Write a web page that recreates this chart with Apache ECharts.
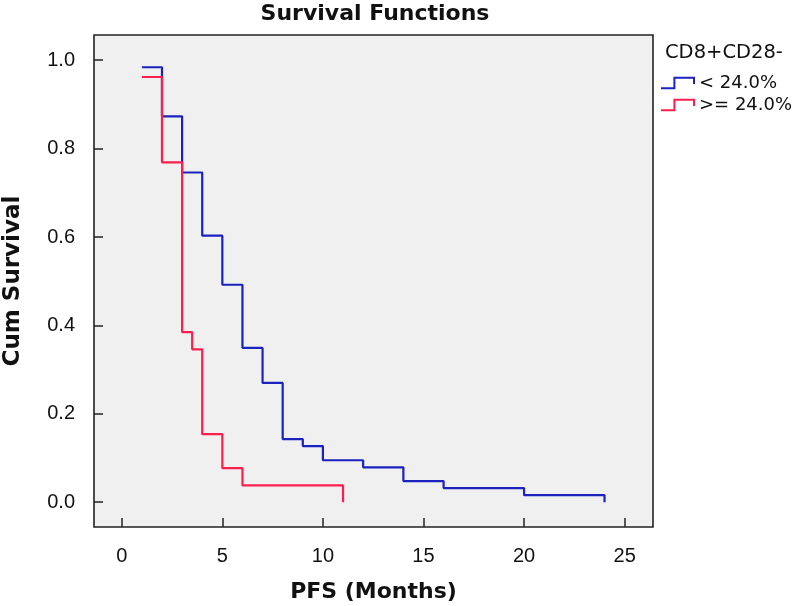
<!DOCTYPE html>
<html>
<head>
<meta charset="utf-8">
<script src="https://cdn.jsdelivr.net/npm/echarts@6/dist/echarts.min.js"></script>
<style>html,body{margin:0;padding:0;background:#fff;}#c{width:793px;height:606px;}</style>
</head>
<body>
<div id="c"></div>
<script>
// Data
var blueName = '< 24.0%';
var redName = '>= 24.0%';
var blueTimes = [1, 2, 3, 4, 5, 6, 7, 8, 9, 10, 12, 14, 16, 20, 24];
var blueSurv  = [0.984, 0.873, 0.746, 0.603, 0.492, 0.349, 0.270, 0.143, 0.127, 0.095, 0.079, 0.048, 0.032, 0.016, 0.0];
var redTimes  = [1, 2, 3, 3.5, 4, 5, 6, 11];
var redSurv   = [0.962, 0.769, 0.385, 0.346, 0.154, 0.077, 0.038, 0.0];
var xTicks = [0, 5, 10, 15, 20, 25];
var yTicks = [0.0, 0.2, 0.4, 0.6, 0.8, 1.0];

var BLUE = '#1c22bd';
var RED = '#fb1f4e';
var stepIcon = 'path://M0,10L13,10L13,0L32,0L32,6';

function pairs(xs, ys) { return xs.map(function (x, i) { return [x, ys[i]]; }); }

var chart = echarts.init(document.getElementById('c'), null, {renderer: 'canvas'});
chart.setOption({
  animation: false,
  backgroundColor: '#ffffff',
  title: [{
    text: 'Survival Functions',
    left: 375, top: 3, textAlign: 'center', padding: 0,
    textStyle: {fontFamily: 'DejaVu Sans', fontWeight: 'bold', fontSize: 22, color: '#111'}
  }, {
    text: 'CD8+CD28-',
    left: 665, top: 43, padding: 0,
    textStyle: {fontFamily: 'DejaVu Sans', fontWeight: 'normal', fontSize: 19.5, color: '#111'}
  }],
  legend: {
    orient: 'vertical', left: 660, top: 74, padding: 0,
    itemWidth: 33, itemHeight: 11, itemGap: 4, selectedMode: false,
    textStyle: {fontFamily: 'DejaVu Sans', fontSize: 18, color: '#111'},
    data: [
      {name: blueName, icon: stepIcon, itemStyle: {color: 'transparent', borderColor: BLUE, borderWidth: 2}},
      {name: redName, icon: stepIcon, itemStyle: {color: 'transparent', borderColor: RED, borderWidth: 2}}
    ]
  },
  grid: {
    left: 94, right: 140, top: 35, bottom: 79,
    show: true, backgroundColor: '#f0f0f0', borderColor: '#222', borderWidth: 1.6,
    containLabel: false, outerBoundsMode: 'none'
  },
  xAxis: {
    type: 'value', min: -1.38, max: 26.41, position: 'bottom',
    name: 'PFS (Months)', nameLocation: 'middle', nameGap: 54,
    nameTextStyle: {fontFamily: 'DejaVu Sans', fontWeight: 'bold', fontSize: 22, color: '#111'},
    axisLine: {show: false, onZero: false},
    splitLine: {show: false},
    axisTick: {show: true, inside: false, length: -9, lineStyle: {color: '#222', width: 1.5}, customValues: xTicks},
    axisLabel: {customValues: xTicks, margin: 19, fontFamily: 'Liberation Sans', fontSize: 20, color: '#111'}
  },
  yAxis: {
    type: 'value', min: -0.056, max: 1.057, position: 'left',
    name: 'Cum Survival', nameLocation: 'middle', nameGap: 69,
    nameTextStyle: {fontFamily: 'DejaVu Sans', fontWeight: 'bold', fontSize: 23, color: '#111'},
    axisLine: {show: false, onZero: false},
    splitLine: {show: false},
    axisTick: {show: true, inside: false, length: -9, lineStyle: {color: '#222', width: 1.5}, customValues: yTicks},
    axisLabel: {customValues: yTicks, margin: 19, fontFamily: 'Liberation Sans', fontSize: 20, color: '#111',
      formatter: function (v) { return Number(v).toFixed(1); }}
  },
  series: [{
    name: blueName, type: 'line', step: 'end', symbol: 'none',
    data: pairs(blueTimes, blueSurv),
    lineStyle: {color: BLUE, width: 2.2}, itemStyle: {color: BLUE}
  }, {
    name: redName, type: 'line', step: 'end', symbol: 'none',
    data: pairs(redTimes, redSurv),
    lineStyle: {color: RED, width: 2.2}, itemStyle: {color: RED}
  }]
});
</script>
</body>
</html>
